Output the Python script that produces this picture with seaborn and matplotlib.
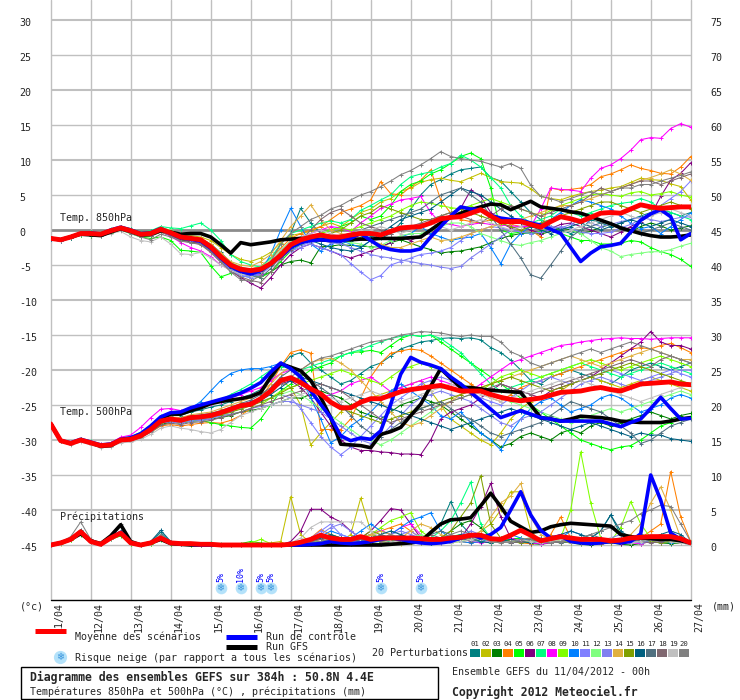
import matplotlib
matplotlib.use("Agg")
import matplotlib.pyplot as plt
import matplotlib.transforms as mtransforms
from matplotlib.lines import Line2D
from matplotlib.patches import Rectangle
import pandas as pd
import seaborn as sns

W_PX, H_PX = 740, 700

# 6-hourly steps in days after 11/04 00h (0 .. 384 h)
STEPS = [h / 24 for h in range(0, 385, 6)]
DATES = ["11/04", "12/04", "13/04", "14/04", "15/04", "16/04", "17/04", "18/04", "19/04",
         "20/04", "21/04", "22/04", "23/04", "24/04", "25/04", "26/04", "27/04"]

PERT_NAMES = ["%02d" % k for k in range(1, 21)]
PERT_COLORS = ["#008080", "#c0c000", "#008000", "#ff8000", "#00ff00", "#800080", "#00ff80",
               "#ff00ff", "#80ff00", "#0080ff", "#8080ff", "#80ff80", "#8080f0", "#e0b040",
               "#80a000", "#006080", "#507080", "#806870", "#c0c0c0", "#808080"]

# snow risk markers (day, percent)
SNOW_DAYS = [4.25, 4.75, 5.25, 5.5, 8.25, 9.25]
SNOW_PCT = [5, 10, 5, 5, 5, 5]

# ---------- temperature 850 hPa (degC) ----------
T850_MEAN = [-1.2, -1.4, -1.0, -0.5, -0.5, -0.6, -0.1, 0.3, -0.1, -0.6, -0.5, 0.1, -0.4, -1.0, -1.2, -1.4,
             -2.4, -3.8, -5.0, -5.6, -5.8, -5.6, -4.8, -3.6, -2.1, -1.4, -1.0, -0.7, -1.0, -1.0, -0.7, -0.5,
             -0.5, -0.7, -0.2, 0.3, 0.4, 0.5, 1.0, 1.6, 1.8, 1.9, 2.4, 2.9, 2.0, 1.2, 1.2, 1.2,
             0.8, 0.4, 1.2, 1.9, 1.6, 1.2, 1.8, 2.4, 2.5, 2.4, 3.0, 3.6, 3.3, 3.1, 3.2, 3.3, 3.3]
T850_GFS = [-1.2, -1.4, -1.0, -0.6, -0.7, -0.8, -0.3, 0.2, -0.2, -0.7, -0.6, -0.1, -0.3, -0.6, -0.5, -0.5,
            -1.0, -2.1, -3.3, -1.8, -2.1, -1.9, -1.7, -1.4, -1.3, -1.2, -1.3, -1.4, -1.5, -1.4, -1.4, -1.3,
            -1.3, -1.2, -1.2, -1.2, -1.1, -1.0, 0.0, 1.0, 1.8, 2.4, 2.9, 3.3, 3.7, 3.6, 2.9, 3.5,
            4.1, 3.3, 3.1, 2.9, 2.6, 2.4, 1.9, 1.4, 0.9, 0.3, -0.1, -0.5, -0.8, -1.0, -1.0, -0.9, -0.7]
T850_CTRL = [-1.2, -1.4, -1.0, -0.5, -0.4, -0.6, 0.0, 0.4, 0.0, -0.5, -0.4, 0.2, -0.5, -1.1, -1.3, -1.6,
             -2.6, -4.0, -5.2, -5.9, -6.3, -5.8, -4.8, -3.8, -2.5, -1.8, -1.5, -1.4, -1.5, -1.6, -1.2, -0.5,
             -1.5, -2.4, -2.8, -3.0, -3.0, -2.7, -1.0, 0.5, 2.0, 3.3, 3.0, 2.9, 2.1, 1.7, 1.5, 1.4,
             1.0, 0.7, 0.1, -0.5, -2.5, -4.5, -3.3, -2.4, -2.2, -1.9, -0.3, 1.4, 2.3, 2.9, 1.9, -1.4, -0.5]
T850_PERT = [
    # 01
    [-1.2, -1.3, -0.9, -0.4, -0.3, -0.5, 0.0, 0.5, 0.1, -0.4, -0.2, 0.4, -0.1, -0.7, -1.0, -1.3,
     -2.0, -3.2, -4.6, -5.5, -5.9, -5.7, -4.5, -2.0, -0.5, 3.1, 1.0, -0.5, -1.5, -2.0, -1.5, -1.0,
     -0.8, -1.2, -0.5, 1.0, 3.0, 5.0, 6.5, 7.2, 8.0, 8.6, 8.8, 9.0, 7.5, 7.0, 5.5, 4.0,
     2.5, 1.5, 0.5, 0.0, -0.5, 0.0, 1.5, 1.0, 0.5, 1.0, 1.5, 2.0, 2.5, 3.0, 2.5, 2.0, 2.5],
    # 02
    [-1.1, -1.4, -1.1, -0.6, -0.6, -0.7, -0.2, 0.2, -0.2, -0.7, -0.6, 0.0, -0.2, -0.6, -0.8, -1.0,
     -1.5, -2.5, -3.5, -4.2, -4.5, -4.0, -3.2, -1.8, -0.8, -0.5, -0.2, 0.5, 1.0, 0.5, 1.5, 2.5,
     3.0, 4.0, 4.5, 5.5, 6.0, 6.8, 7.2, 7.4, 7.1, 6.9, 7.5, 8.1, 7.5, 6.9, 6.8, 6.7,
     5.9, 4.8, 4.5, 4.3, 4.8, 5.2, 5.5, 5.7, 6.0, 6.2, 6.8, 7.4, 7.2, 7.1, 6.6, 6.2, 4.3],
    # 03
    [-1.3, -1.5, -1.2, -0.7, -0.8, -0.9, -0.4, 0.0, -0.4, -0.9, -0.9, -0.3, -0.8, -1.4, -1.7, -2.0,
     -3.0, -4.3, -5.5, -6.2, -6.5, -6.6, -6.0, -5.0, -4.5, -4.3, -4.7, -2.4, -2.3, -2.1, -2.2, -2.3,
     -2.4, -2.4, -1.8, -1.4, -1.9, -2.4, -2.8, -3.3, -3.1, -3.0, -2.7, -2.4, -1.8, -1.2, -0.8, -0.5,
     -0.4, -0.6, -0.2, 0.3, 0.0, -0.5, -0.2, 0.4, 0.8, 0.2, -0.3, 0.5, 1.0, 0.6, 0.0, 0.3, 0.6],
    # 04
    [-1.2, -1.4, -0.9, -0.4, -0.4, -0.5, 0.0, 0.4, 0.0, -0.5, -0.4, 0.2, -0.3, -0.9, -1.1, -1.3,
     -2.2, -3.6, -4.8, -5.4, -5.6, -5.2, -4.0, -2.6, -1.2, -0.5, 0.0, 0.5, 1.5, 2.5, 3.0, 3.5,
     4.3, 6.9, 5.2, 5.0, 6.2, 7.1, 8.6, 4.3, 2.4, 1.5, 1.2, 1.0, 1.5, 1.2, 0.8, 0.5,
     0.0, -1.0, 6.0, 5.7, 5.8, 6.0, 6.5, 7.6, 8.0, 8.6, 9.3, 8.8, 8.5, 8.1, 8.0, 9.0, 10.5],
    # 05
    [-1.3, -1.5, -1.1, -0.7, -0.7, -0.8, -0.4, 0.0, -0.5, -1.0, -1.2, -1.0, -1.5, -2.9, -3.0, -3.2,
     -5.1, -6.7, -6.2, -6.0, -6.5, -6.8, -6.0, -4.5, -3.0, -2.0, -1.5, -0.5, 0.0, 0.5, 1.0, 2.0,
     1.5, 2.0, 3.5, 5.5, 6.5, 7.0, 8.0, 8.6, 9.5, 10.5, 11.0, 10.2, 6.0, 0.0, -0.5, -0.3,
     -0.5, -0.2, 0.2, -0.5, -1.0, -1.5, -1.5, -2.0, -2.0, -1.9, -1.5, -1.7, -2.5, -3.1, -3.5, -4.2, -5.2],
    # 06
    [-1.2, -1.5, -1.0, -0.6, -0.6, -0.7, -0.2, 0.1, -0.3, -0.8, -0.7, -0.1, -0.7, -1.3, -1.6, -1.9,
     -2.8, -4.3, -5.8, -6.8, -7.6, -8.3, -6.8, -5.0, -3.5, -2.5, -2.0, -2.5, -3.0, -3.6, -4.0, -3.5,
     -3.0, -2.5, -1.8, -1.0, -1.5, -0.8, -0.5, 0.5, 2.0, 3.1, 5.7, 4.8, 2.5, 1.0, 0.3, 0.5,
     0.0, -0.5, 0.2, 0.8, 1.0, 0.5, 0.0, -0.5, -1.0, -0.3, 0.5, 1.2, 2.1, 4.8, 7.1, 8.1, 9.6],
    # 07
    [-1.1, -1.3, -0.9, -0.4, -0.3, -0.4, 0.1, 0.5, 0.2, -0.3, -0.1, 0.5, 0.3, 0.2, 0.6, 1.0,
     0.0, -1.5, -3.5, -4.5, -5.0, -5.3, -4.0, -2.0, -0.5, 0.0, 0.5, 1.0, 1.3, 1.0, 1.5, 2.8,
     3.5, 4.3, 5.0, 6.5, 7.6, 8.0, 8.3, 9.0, 9.5, 10.7, 10.0, 9.0, 7.5, 6.0, 3.5, 2.0,
     1.0, 1.5, 2.0, 3.0, 2.5, 2.0, 2.5, 3.0, 3.5, 3.8, 4.0, 4.5, 4.0, 3.0, 2.5, 2.0, 1.5],
    # 08
    [-1.2, -1.4, -1.0, -0.5, -0.6, -0.7, -0.2, 0.2, -0.2, -0.7, -0.7, -0.2, -0.9, -1.8, -2.5, -3.0,
     -3.8, -5.0, -5.7, -6.2, -6.5, -6.3, -5.0, -3.2, -1.5, -1.0, -0.5, 0.0, 0.5, 0.3, -0.2, 1.0,
     2.0, 3.1, 3.7, 4.3, 4.5, 4.8, 2.5, 1.0, 0.8, 0.5, 0.8, 1.0, 0.8, 0.7, 0.6, 0.5,
     0.5, 3.0, 6.0, 5.8, 5.7, 5.5, 7.4, 8.8, 9.3, 10.2, 11.4, 12.9, 13.2, 13.1, 14.5, 15.2, 14.7],
    # 09
    [-1.2, -1.3, -1.0, -0.6, -0.5, -0.6, -0.1, 0.3, 0.0, -0.5, -0.5, 0.1, -0.4, -1.0, -1.2, -1.5,
     -2.5, -3.8, -5.0, -5.8, -6.2, -6.0, -4.8, -3.0, -1.8, -1.0, -0.8, -0.5, 0.0, 0.3, 0.0, 0.5,
     1.0, 1.5, 2.0, 2.8, 3.5, 4.0, 3.8, 3.5, 3.2, 3.0, 3.5, 4.0, 4.5, 4.0, 3.5, 3.0,
     2.5, 2.0, 2.8, 3.5, 4.0, 4.5, 5.0, 5.2, 5.0, 4.8, 5.3, 5.5, 5.0, 5.2, 5.5, 5.0, 4.7],
    # 10
    [-1.3, -1.4, -1.0, -0.5, -0.4, -0.6, 0.0, 0.3, -0.1, -0.6, -0.4, 0.2, -0.3, -0.9, -1.3, -1.6,
     -2.6, -4.0, -5.5, -6.5, -6.8, -6.0, -3.5, 0.0, 3.1, 0.5, -2.0, -3.0, -2.0, -1.5, -2.0, -2.5,
     -1.5, -1.0, -1.5, -1.0, -0.5, 0.5, -0.5, -1.0, -1.5, -1.2, -1.0, -0.5, -2.5, -4.8, -2.0, -0.5,
     0.5, 1.0, 1.5, 2.5, 3.5, 4.3, 4.0, 3.5, 3.0, 2.0, 1.0, 0.2, 0.5, -0.5, 0.5, 1.5, 2.4],
    # 11
    [-1.2, -1.4, -1.0, -0.5, -0.5, -0.6, -0.1, 0.4, 0.0, -0.5, -0.4, 0.2, -0.3, -1.0, -1.3, -1.6,
     -2.8, -4.3, -5.6, -6.3, -6.6, -6.2, -5.0, -3.8, -3.0, -2.5, -2.0, -2.5, -3.0, -3.5, -4.8, -6.0,
     -7.1, -6.5, -5.0, -4.5, -4.0, -3.5, -3.3, -3.0, -2.5, -1.5, -0.5, 0.0, 0.5, 0.3, 0.0, -0.3,
     -0.5, -0.3, 0.0, 0.5, 0.2, -0.3, -0.5, -0.5, -0.3, 0.3, 0.8, 1.5, 2.5, 3.5, 4.5, 5.5, 7.0],
    # 12
    [-1.1, -1.3, -0.9, -0.5, -0.4, -0.5, 0.0, 0.4, 0.0, -0.5, -0.4, 0.3, 0.0, -0.6, -0.9, -1.2,
     -2.0, -3.4, -4.6, -5.3, -5.6, -5.3, -4.2, -2.8, -1.6, -1.0, -0.8, -1.0, -1.2, -1.5, -1.8, -2.0,
     -2.5, -2.2, -1.5, -0.8, -0.5, -0.5, 0.0, 0.5, 1.0, 1.0, 0.5, -0.5, -1.0, -1.5, -2.0, -2.2,
     -1.8, -1.5, -1.0, -0.5, 0.0, -0.5, -1.5, -2.5, -3.0, -3.8, -3.5, -3.3, -3.1, -3.1, -2.8, -2.3, -1.9],
    # 13
    [-1.3, -1.5, -1.1, -0.6, -0.6, -0.8, -0.3, 0.1, -0.3, -0.8, -0.7, -0.2, -0.6, -1.2, -1.5, -1.8,
     -3.0, -4.5, -5.8, -6.5, -6.8, -6.4, -5.2, -4.0, -3.0, -2.2, -1.8, -1.5, -1.8, -2.0, -2.5, -3.0,
     -3.5, -3.8, -4.0, -4.3, -4.5, -4.8, -5.0, -5.3, -5.5, -5.2, -4.0, -3.0, -2.0, -1.0, 0.0, 0.5,
     1.0, 0.8, 0.5, 0.3, 0.8, 1.5, 1.0, 0.5, 0.8, 1.2, 1.5, 1.8, 1.5, 1.2, 1.5, 1.8, 1.9],
    # 14
    [-1.2, -1.3, -0.9, -0.4, -0.4, -0.5, 0.0, 0.4, 0.0, -0.4, -0.3, 0.3, -0.1, -0.7, -0.9, -1.2,
     -2.0, -3.3, -4.5, -5.0, -5.2, -4.5, -3.5, -1.5, 0.5, 2.0, 3.6, 1.5, 0.0, -0.5, -0.8, -1.2,
     -1.5, -2.0, -2.5, -2.5, -2.0, -1.5, -1.0, -1.5, -1.4, -1.0, -0.5, 0.0, 0.5, 0.8, 1.0, 1.5,
     2.0, 2.5, 3.0, 3.5, 3.5, 4.0, 4.5, 5.0, 5.5, 6.0, 6.5, 7.1, 7.5, 8.0, 8.6, 8.0, 7.1],
    # 15
    [-1.2, -1.4, -1.0, -0.5, -0.5, -0.6, -0.1, 0.3, -0.1, -0.6, -0.5, 0.1, -0.5, -1.1, -1.3, -1.6,
     -2.6, -3.9, -5.2, -5.9, -6.1, -5.8, -4.6, -3.2, -2.0, -1.5, -1.2, -1.0, -0.5, 0.0, 1.0, 2.0,
     2.5, 3.5, 3.0, 2.5, 2.0, 1.5, 1.5, 2.0, 2.5, 3.0, 2.5, 2.0, 1.5, 1.0, 0.5, 0.0,
     0.5, 1.0, 1.5, 2.0, 2.5, 3.0, 3.5, 4.0, 4.0, 3.5, 3.0, 2.5, 3.0, 3.5, 4.0, 3.5, 3.0],
    # 16
    [-1.3, -1.4, -1.1, -0.6, -0.5, -0.7, -0.2, 0.2, -0.2, -0.7, -0.6, 0.0, -0.5, -1.1, -1.4, -1.7,
     -2.8, -4.2, -5.4, -6.1, -6.4, -6.1, -5.0, -3.5, -2.5, -1.8, -1.5, -2.0, -2.5, -2.8, -3.0, -2.5,
     -1.5, -0.5, 0.5, 1.5, 2.0, 2.5, 3.0, 4.0, 5.0, 6.0, 5.5, 5.0, 4.0, 3.0, 2.0, 1.0,
     0.5, 0.0, -0.5, 0.0, 0.5, 1.0, 0.5, 0.0, 0.5, 1.0, 1.5, 1.0, 0.5, 1.0, 1.5, 1.0, 0.5],
    # 17
    [-1.2, -1.4, -1.0, -0.6, -0.5, -0.6, -0.1, 0.3, -0.1, -0.6, -0.5, 0.1, -0.4, -1.0, -1.2, -1.5,
     -2.6, -4.0, -5.3, -6.2, -6.6, -6.8, -5.5, -3.8, -2.5, -1.8, -1.5, -1.2, -1.0, -0.8, -0.5, 0.0,
     0.5, 1.0, 1.5, 2.0, 2.5, 3.0, 4.0, 5.0, 5.5, 6.0, 5.0, 4.0, 2.0, 0.0, -2.0, -4.0,
     -6.4, -6.9, -5.0, -3.0, -1.0, 0.0, 0.5, 1.0, 1.0, 0.5, 0.0, -0.5, 0.0, 0.5, 1.0, 0.5, 0.0],
    # 18
    [-1.2, -1.4, -1.0, -0.5, -0.5, -0.7, -0.2, 0.2, -0.3, -0.8, -0.8, -0.3, -0.8, -1.5, -1.8, -2.1,
     -3.2, -4.6, -5.9, -6.7, -7.2, -7.5, -6.0, -4.2, -2.8, -1.5, 0.0, 1.5, 2.5, 3.0, 2.0, 1.0,
     0.5, 0.0, -0.5, 0.0, 0.5, 1.0, 1.5, 2.0, 2.5, 2.0, 1.5, 1.0, 2.0, 3.0, 3.5, 3.0,
     2.5, 2.0, 2.5, 3.0, 3.5, 4.0, 5.0, 6.0, 5.5, 6.0, 6.5, 7.0, 7.0, 6.5, 7.0, 7.5, 8.0],
    # 19
    [-1.2, -1.4, -1.0, -0.6, -0.7, -0.9, -0.5, -0.2, -1.0, -1.5, -1.7, -1.0, -2.0, -3.4, -3.5, -3.2,
     -4.0, -5.0, -5.8, -6.3, -6.5, -6.0, -4.5, -2.8, -1.8, -1.0, -0.5, 0.0, -0.5, -1.0, -0.5, 0.0,
     0.0, 0.5, 0.0, -0.5, 0.0, 0.5, 1.0, 0.5, 0.0, 0.5, 1.0, 1.5, 1.0, 0.5, 0.0, 0.5,
     1.0, 0.5, 0.0, -0.5, 0.0, 0.5, 1.0, 1.5, 2.0, 2.5, 2.0, 1.5, 2.0, 2.5, 3.0, 2.5, 2.0],
    # 20
    [-1.2, -1.3, -1.0, -0.6, -0.6, -0.8, -0.3, 0.0, -0.5, -1.0, -1.4, -0.6, -1.0, -1.6, -1.8, -2.0,
     -3.0, -4.5, -6.0, -7.1, -7.3, -6.5, -4.5, -2.0, -0.5, 0.5, 1.5, 2.1, 3.0, 3.5, 4.3, 5.0,
     5.5, 6.2, 7.0, 7.9, 8.5, 9.3, 10.2, 11.2, 10.5, 10.2, 10.0, 9.8, 9.4, 9.0, 9.5, 8.8,
     6.4, 4.8, 4.5, 4.0, 4.5, 5.0, 5.5, 5.0, 5.5, 6.0, 6.0, 6.5, 6.5, 7.0, 7.4, 7.8, 8.3],
]

# ---------- temperature 500 hPa (degC) ----------
T500_MEAN = [-27.7, -30.1, -30.5, -30.0, -30.4, -30.8, -30.7, -30.0, -29.9, -29.4, -28.5, -27.3, -27.0, -27.2, -26.8, -26.7,
             -26.5, -26.1, -25.6, -25.1, -24.9, -24.1, -23.0, -21.5, -21.1, -21.8, -22.7, -23.4, -24.6, -25.4, -25.4, -24.6,
             -24.1, -24.1, -23.6, -23.1, -22.8, -22.6, -22.4, -22.2, -22.6, -23.0, -23.0, -23.0, -23.5, -23.9, -24.2, -24.4,
             -24.2, -24.0, -23.6, -23.2, -23.1, -23.0, -22.7, -22.5, -22.8, -23.0, -22.5, -22.0, -21.9, -21.8, -21.7, -22.0, -22.1]
T500_GFS = [-27.7, -30.1, -30.5, -30.0, -30.4, -30.9, -30.8, -30.0, -29.8, -29.2, -28.3, -26.9, -26.3, -26.3, -25.8, -25.4,
            -24.8, -24.5, -24.3, -24.1, -23.8, -23.2, -21.0, -19.1, -19.6, -20.1, -21.5, -23.9, -26.8, -30.6, -30.7, -30.8,
            -31.1, -29.2, -28.8, -28.2, -26.5, -24.9, -22.3, -19.8, -21.2, -22.5, -22.5, -22.7, -22.9, -23.0, -23.1, -23.2,
            -25.0, -26.8, -27.0, -27.3, -27.0, -26.6, -26.7, -26.8, -27.0, -27.3, -27.4, -27.5, -27.5, -27.5, -27.3, -27.0, -26.8]
T500_CTRL = [-27.7, -30.1, -30.4, -29.9, -30.3, -30.7, -30.6, -29.9, -29.7, -29.1, -28.0, -26.7, -26.1, -26.0, -25.4, -25.0,
             -24.6, -24.2, -23.8, -23.3, -22.6, -21.8, -20.3, -19.0, -19.8, -21.0, -23.0, -24.9, -26.8, -29.4, -30.1, -29.7,
             -29.9, -28.7, -24.9, -20.6, -18.2, -18.9, -19.3, -19.8, -21.0, -22.0, -23.2, -24.4, -25.6, -26.8, -26.3, -25.8,
             -26.3, -26.8, -27.0, -27.3, -27.3, -27.3, -27.3, -27.3, -27.7, -28.1, -27.5, -27.0, -25.5, -23.9, -25.5, -27.0, -26.9]
T500_PERT = [
    # 01
    [-27.7, -30.0, -30.4, -29.9, -30.3, -30.7, -30.5, -29.8, -29.6, -29.0, -28.0, -26.8, -26.5, -26.5, -26.0, -25.7,
     -25.3, -25.0, -24.5, -24.0, -23.5, -22.8, -21.5, -19.5, -18.0, -17.5, -19.0, -20.0, -21.0, -22.0, -21.5, -20.5,
     -19.5, -19.0, -18.0, -17.0, -16.5, -16.0, -15.8, -15.5, -15.4, -15.5, -15.4, -15.7, -16.8, -17.5, -18.6, -20.0,
     -21.5, -22.0, -21.0, -20.5, -20.0, -20.5, -21.0, -21.5, -22.0, -21.0, -20.0, -19.5, -19.0, -19.5, -20.0, -19.5, -19.0],
    # 02
    [-27.7, -30.2, -30.6, -30.1, -30.5, -30.9, -30.8, -30.1, -30.0, -29.5, -28.8, -27.8, -27.5, -27.6, -27.3, -27.0,
     -26.8, -26.5, -26.0, -25.5, -24.8, -24.0, -23.0, -21.5, -22.5, -25.0, -30.7, -29.0, -27.5, -26.0, -25.0, -24.5,
     -24.0, -23.5, -23.0, -22.5, -22.0, -21.5, -23.0, -25.0, -27.0, -28.0, -29.0, -30.0, -30.7, -29.0, -27.0, -25.5,
     -24.5, -24.0, -23.5, -23.0, -22.0, -21.5, -21.0, -21.5, -22.0, -22.5, -22.0, -21.5, -21.0, -21.5, -22.0, -22.5, -23.0],
    # 03
    [-27.7, -30.1, -30.6, -30.2, -30.6, -31.0, -30.9, -30.2, -30.1, -29.6, -28.8, -27.8, -27.4, -27.6, -27.3, -27.2,
     -27.0, -26.8, -26.5, -26.0, -25.8, -25.5, -25.0, -24.5, -24.0, -24.0, -23.5, -23.0, -23.5, -24.0, -25.0, -26.0,
     -26.5, -27.0, -26.0, -25.0, -24.5, -24.0, -24.5, -25.0, -26.0, -27.0, -28.0, -29.0, -30.0, -31.0, -30.5, -29.5,
     -29.0, -29.5, -30.0, -29.0, -28.5, -29.0, -28.0, -27.5, -28.0, -27.5, -27.0, -26.5, -26.0, -26.5, -27.0, -26.5, -26.2],
    # 04
    [-27.7, -30.1, -30.5, -30.0, -30.4, -30.8, -30.7, -30.1, -30.0, -29.6, -28.9, -28.0, -27.8, -28.0, -27.8, -27.6,
     -27.5, -27.6, -27.2, -26.5, -25.5, -24.0, -22.0, -19.5, -17.5, -17.1, -17.6, -28.5, -28.5, -28.5, -27.0, -24.0,
     -21.0, -19.0, -17.6, -17.3, -17.0, -17.2, -18.0, -19.0, -20.0, -21.0, -22.0, -23.0, -24.0, -24.5, -23.5, -22.5,
     -22.0, -21.5, -21.0, -20.5, -20.0, -19.5, -19.0, -18.5, -18.0, -17.5, -17.0, -16.8, -17.0, -16.5, -16.2, -16.8, -17.5],
    # 05
    [-27.7, -30.2, -30.6, -30.1, -30.5, -30.9, -30.8, -30.1, -30.0, -29.5, -28.7, -27.6, -27.3, -27.5, -27.3, -27.2,
     -27.5, -27.8, -28.0, -28.2, -28.3, -27.0, -25.0, -23.0, -22.0, -21.0, -20.0, -19.5, -19.0, -18.0, -17.5, -17.4,
     -17.2, -17.5, -16.5, -15.5, -15.0, -15.2, -15.0, -16.0, -17.0, -18.0, -19.0, -20.0, -21.0, -22.0, -23.0, -24.0,
     -25.0, -26.0, -27.0, -28.0, -29.0, -30.0, -30.5, -31.0, -31.4, -31.0, -30.8, -30.0, -29.0, -28.0, -27.5, -27.0, -26.7],
    # 06
    [-27.7, -30.1, -30.5, -30.0, -30.4, -30.8, -30.7, -30.0, -29.9, -29.4, -28.5, -27.3, -27.0, -27.2, -26.8, -26.7,
     -26.5, -26.0, -25.5, -25.0, -24.5, -24.0, -23.0, -22.0, -21.5, -22.5, -24.0, -26.0, -28.0, -30.0, -31.0, -31.5,
     -31.5, -31.7, -31.8, -32.0, -32.0, -32.1, -30.0, -27.0, -26.0, -25.5, -25.0, -24.0, -23.0, -22.0, -22.5, -23.0,
     -23.5, -24.0, -23.0, -22.5, -22.0, -21.5, -21.0, -20.0, -19.0, -18.0, -17.0, -16.0, -14.5, -16.0, -16.5, -16.5, -17.0],
    # 07
    [-27.7, -30.0, -30.4, -29.9, -30.2, -30.6, -30.4, -29.7, -29.5, -28.9, -27.9, -26.6, -26.2, -26.2, -25.7, -25.3,
     -24.8, -24.3, -23.5, -22.8, -22.0, -21.0, -20.0, -19.5, -19.8, -20.0, -19.5, -19.0, -18.5, -18.0, -17.5, -17.1,
     -16.5, -16.0, -15.5, -15.2, -15.0, -15.2, -15.0, -15.5, -16.5, -17.5, -19.0, -20.5, -22.0, -23.0, -22.5, -22.0,
     -21.5, -21.0, -20.5, -20.0, -19.5, -19.0, -19.5, -20.0, -20.5, -21.0, -20.5, -20.0, -19.5, -19.0, -19.5, -20.0, -20.5],
    # 08
    [-27.7, -30.1, -30.5, -30.0, -30.3, -30.6, -30.4, -29.6, -29.3, -28.2, -26.8, -25.6, -25.5, -25.8, -25.5, -25.2,
     -24.8, -24.5, -24.0, -23.5, -23.0, -22.5, -21.5, -20.5, -20.0, -21.0, -22.5, -24.0, -23.5, -23.0, -22.0, -21.5,
     -21.0, -22.0, -23.1, -22.5, -22.0, -21.5, -21.0, -21.5, -22.0, -22.5, -23.0, -22.0, -21.0, -20.0, -19.0, -18.5,
     -18.0, -17.5, -17.0, -16.5, -16.3, -16.0, -15.8, -15.6, -15.5, -15.4, -15.5, -15.5, -15.6, -15.5, -15.4, -15.4, -15.4],
    # 09
    [-27.7, -30.2, -30.5, -30.1, -30.4, -30.9, -30.8, -30.1, -30.0, -29.6, -28.7, -27.5, -27.3, -27.5, -27.2, -27.0,
     -26.8, -26.5, -26.3, -26.0, -25.5, -25.0, -24.0, -23.0, -22.5, -22.0, -21.5, -21.0, -20.5, -20.0, -20.5, -21.0,
     -21.5, -22.0, -21.0, -20.0, -19.5, -19.0, -19.5, -20.0, -21.0, -22.0, -22.5, -23.0, -22.0, -21.0, -20.5, -20.0,
     -20.5, -21.0, -20.5, -20.0, -19.5, -19.0, -18.5, -19.0, -19.5, -20.0, -19.5, -19.0, -18.5, -18.0, -18.5, -19.0, -19.5],
    # 10
    [-27.7, -30.0, -30.4, -29.9, -30.3, -30.7, -30.5, -29.8, -29.6, -29.0, -28.0, -26.8, -26.4, -26.3, -25.5, -24.5,
     -23.0, -21.5, -20.5, -20.0, -19.8, -19.8, -19.5, -19.0, -19.5, -21.0, -24.0, -27.0, -30.4, -29.5, -28.0, -27.0,
     -26.0, -24.5, -23.0, -22.0, -23.0, -24.0, -25.0, -26.5, -27.0, -26.0, -27.5, -29.0, -30.0, -31.4, -29.0, -27.0,
     -25.5, -24.5, -24.0, -25.0, -26.0, -25.5, -25.0, -24.0, -23.5, -24.0, -25.0, -26.0, -25.5, -25.0, -24.0, -23.5, -24.0],
    # 11
    [-27.7, -30.1, -30.5, -30.0, -30.4, -30.8, -30.7, -30.0, -29.9, -29.5, -28.7, -27.6, -27.4, -27.6, -27.3, -27.2,
     -27.0, -26.5, -26.0, -25.5, -25.0, -24.5, -24.0, -23.5, -24.0, -25.5, -27.5, -29.5, -31.0, -32.1, -31.0, -29.5,
     -28.0, -26.5, -25.0, -24.0, -23.0, -22.0, -21.5, -21.0, -21.5, -22.0, -23.0, -24.0, -24.5, -25.0, -24.0, -23.0,
     -22.0, -21.5, -21.0, -21.5, -22.0, -21.5, -21.0, -20.5, -20.0, -20.5, -21.0, -21.5, -21.0, -20.5, -20.0, -20.5, -21.0],
    # 12
    [-27.7, -30.0, -30.5, -30.0, -30.4, -30.8, -30.6, -29.9, -29.8, -29.3, -28.4, -27.2, -26.9, -27.1, -26.7, -26.6,
     -26.5, -26.3, -26.0, -25.5, -25.0, -24.5, -24.0, -23.5, -23.0, -23.5, -24.5, -25.5, -26.5, -27.5, -28.5, -29.5,
     -30.0, -30.7, -30.0, -29.0, -28.0, -27.0, -26.0, -25.0, -24.5, -24.0, -23.5, -23.0, -23.5, -24.0, -24.5, -25.0,
     -25.5, -26.0, -26.5, -27.0, -27.5, -27.0, -26.5, -26.0, -25.5, -26.0, -25.5, -25.0, -24.5, -24.0, -23.5, -23.0, -23.5],
    # 13
    [-27.7, -30.1, -30.6, -30.1, -30.5, -30.9, -30.8, -30.1, -30.0, -29.5, -28.6, -27.5, -27.2, -27.4, -27.1, -27.0,
     -26.8, -26.6, -26.3, -26.0, -25.5, -25.2, -25.0, -24.5, -24.5, -25.0, -25.5, -26.0, -27.0, -28.0, -29.0, -30.0,
     -30.5, -29.5, -28.0, -26.5, -25.0, -24.0, -23.5, -23.0, -23.5, -24.0, -24.5, -25.5, -26.5, -27.5, -28.0, -27.0,
     -26.5, -26.0, -25.0, -24.0, -23.0, -22.0, -21.5, -21.0, -21.5, -22.0, -22.5, -22.0, -21.5, -21.0, -20.5, -20.0, -20.0],
    # 14
    [-27.7, -30.0, -30.4, -29.9, -30.3, -30.7, -30.6, -29.9, -29.7, -29.2, -28.2, -27.0, -26.7, -26.8, -26.4, -26.2,
     -26.0, -25.5, -25.0, -24.5, -24.0, -23.0, -22.0, -20.5, -19.5, -20.0, -19.0, -18.5, -18.3, -19.0, -20.0, -21.5,
     -23.0, -24.5, -26.0, -27.5, -28.0, -27.5, -26.5, -25.5, -24.5, -23.5, -23.0, -22.5, -22.0, -21.5, -21.0, -20.5,
     -20.0, -19.5, -19.0, -18.5, -18.0, -18.5, -19.0, -19.5, -19.0, -18.5, -18.0, -17.5, -17.0, -17.5, -18.0, -18.5, -18.5],
    # 15
    [-27.7, -30.1, -30.5, -30.0, -30.4, -30.9, -30.8, -30.1, -30.0, -29.5, -28.6, -27.5, -27.2, -27.3, -27.0, -26.9,
     -26.7, -26.4, -26.0, -25.6, -25.1, -24.6, -24.0, -23.3, -22.5, -22.0, -22.5, -23.5, -24.5, -25.5, -26.0, -26.5,
     -27.0, -27.5, -27.0, -26.5, -26.0, -25.5, -25.0, -24.5, -24.0, -23.5, -23.0, -22.5, -22.0, -21.5, -21.0, -21.5,
     -22.0, -22.5, -23.0, -22.5, -22.0, -21.5, -21.0, -20.5, -20.0, -19.5, -19.0, -19.5, -20.0, -20.5, -21.0, -21.5, -22.0],
    # 16
    [-27.7, -30.1, -30.5, -30.0, -30.4, -30.8, -30.7, -30.0, -29.9, -29.4, -28.5, -27.4, -27.1, -27.3, -26.9, -26.8,
     -26.6, -26.2, -25.8, -25.3, -24.8, -24.3, -23.5, -22.5, -21.5, -21.0, -21.5, -22.0, -22.5, -23.0, -23.5, -24.0,
     -24.5, -25.0, -25.5, -26.0, -26.5, -27.0, -27.5, -28.0, -28.5, -28.0, -27.5, -27.0, -26.5, -26.0, -25.5, -26.0,
     -26.5, -27.0, -27.5, -28.0, -28.5, -28.0, -27.5, -28.0, -28.5, -29.0, -29.5, -29.0, -29.3, -29.3, -29.8, -30.0, -30.2],
    # 17
    [-27.7, -30.1, -30.5, -30.0, -30.4, -30.8, -30.7, -30.0, -29.8, -29.3, -28.4, -27.2, -26.9, -27.0, -26.6, -26.4,
     -26.2, -25.8, -25.3, -24.8, -24.3, -23.5, -22.5, -21.0, -20.0, -20.5, -21.5, -22.5, -23.5, -25.0, -26.5, -28.0,
     -29.0, -29.5, -28.5, -27.5, -26.5, -25.5, -25.0, -24.5, -25.5, -26.5, -27.0, -28.0, -29.0, -29.5, -29.0, -28.5,
     -28.0, -27.5, -26.5, -25.5, -24.5, -25.0, -25.5, -26.0, -27.0, -28.0, -29.0, -30.5, -30.0, -29.0, -28.0, -27.5, -27.0],
    # 18
    [-27.7, -30.2, -30.6, -30.1, -30.5, -31.0, -30.9, -30.2, -30.1, -29.7, -28.9, -27.9, -27.6, -27.8, -27.5, -27.4,
     -27.2, -26.8, -26.4, -26.0, -25.5, -25.0, -24.5, -24.0, -23.5, -23.0, -22.5, -22.0, -22.5, -23.0, -24.0, -25.0,
     -26.0, -27.0, -27.5, -27.0, -26.5, -26.0, -25.5, -25.0, -24.5, -24.0, -23.5, -23.0, -22.5, -22.0, -22.5, -23.0,
     -23.5, -23.0, -22.5, -22.0, -21.5, -21.0, -20.5, -20.0, -19.5, -19.0, -18.5, -19.0, -19.5, -18.5, -18.0, -18.5, -19.0],
    # 19
    [-27.7, -30.2, -30.7, -30.3, -30.7, -31.1, -31.0, -30.4, -30.3, -29.9, -29.2, -28.3, -28.0, -28.3, -28.5, -28.8,
     -29.0, -28.5, -27.5, -26.5, -26.0, -25.5, -25.0, -24.5, -24.0, -23.5, -23.0, -23.5, -24.0, -24.5, -24.0, -23.5,
     -23.0, -23.5, -24.0, -24.5, -24.0, -23.5, -23.0, -22.5, -22.0, -22.5, -23.0, -23.5, -24.0, -24.5, -24.0, -23.5,
     -23.0, -22.5, -22.0, -21.5, -21.0, -21.5, -22.0, -22.5, -23.0, -23.5, -24.0, -24.5, -24.0, -23.5, -23.0, -22.5, -22.0],
    # 20
    [-27.7, -30.1, -30.5, -30.0, -30.4, -30.8, -30.7, -30.0, -29.9, -29.4, -28.5, -27.3, -27.0, -27.2, -26.8, -26.7,
     -26.5, -26.2, -25.8, -25.3, -24.8, -24.0, -23.0, -22.0, -21.0, -20.0, -19.0, -18.3, -18.0, -17.5, -17.0, -16.5,
     -16.0, -15.8, -15.5, -15.0, -14.8, -14.5, -14.6, -14.7, -15.0, -15.2, -15.0, -15.2, -15.2, -16.0, -17.4, -18.0,
     -19.0, -19.5, -19.0, -18.5, -18.0, -17.5, -17.0, -17.5, -17.0, -16.5, -16.0, -16.5, -17.0, -17.5, -18.0, -18.5, -19.0],
]

# ---------- 6-hourly precipitation (mm) ----------
PR_MEAN = [0.0, 0.3, 0.8, 1.9, 0.5, 0.1, 1.0, 1.7, 0.3, 0.0, 0.3, 1.0, 0.3, 0.2,
           0.2, 0.1, 0.1, 0.0, 0.0, 0.0, 0.0, 0.0, 0.0, 0.0, 0.1, 0.4, 0.8, 1.4,
           1.0, 0.8, 0.8, 1.2, 0.8, 1.0, 1.0, 1.0, 1.0, 0.9, 0.8, 0.8, 1.0, 1.1, 1.4, 1.4, 0.9, 0.8,
           1.4, 2.1, 1.4, 0.6, 0.9, 1.2, 1.0, 0.8, 0.8, 0.8, 0.6, 0.7, 1.0, 1.1, 1.2, 1.2, 1.2, 0.9, 0.3]
PR_GFS = [0.0, 0.3, 0.8, 1.6, 0.6, 0.2, 1.3, 2.9, 0.5, 0.0, 0.3, 0.8, 0.2, 0.1,
          0.0, 0.0, 0.0, 0.0, 0.0, 0.0, 0.0, 0.0, 0.0, 0.0, 0.0, 0.0, 0.0, 0.0,
          0.0, 0.0, 0.0, 0.0, 0.0, 0.0, 0.1, 0.2, 0.3, 0.5, 1.8, 3.0, 3.6, 3.7, 3.9, 5.6, 7.4, 5.5,
          3.4, 2.6, 1.8, 2.0, 2.6, 2.9, 3.1, 3.0, 2.9, 2.8, 2.7, 1.5, 1.2, 1.0, 0.9, 0.8, 0.8, 0.6, 0.3]
PR_CTRL = [0.0, 0.3, 0.8, 1.9, 0.5, 0.1, 1.0, 1.8, 0.3, 0.0, 0.3, 1.0, 0.3, 0.2,
           0.1, 0.0, 0.0, 0.0, 0.0, 0.0, 0.0, 0.0, 0.0, 0.0, 0.0, 0.0, 0.1, 0.2,
           0.5, 0.3, 0.2, 0.3, 0.5, 0.8, 1.0, 0.8, 0.5, 0.3, 0.2, 0.3, 0.5, 1.0, 1.5, 1.0, 1.5, 2.5,
           5.0, 7.6, 4.3, 2.1, 1.0, 1.3, 0.5, 0.3, 0.2, 0.3, 0.5, 0.3, 0.5, 1.6, 10.0, 6.4, 1.7, 0.8, 0.3]
PR_PERT = [
    # 01
    [0.0, 0.3, 0.9, 2.2, 0.6, 0.1, 1.1, 2.0, 0.4, 0.0, 0.5, 1.8, 0.4, 0.2,
     0.1, 0.0, 0.0, 0.0, 0.0, 0.0, 0.0, 0.0, 0.0, 0.0, 0.2, 0.5, 0.3, 1.0,
     1.5, 0.8, 0.5, 1.0, 1.5, 1.0, 0.5, 0.8, 1.2, 1.0, 1.5, 3.0, 6.2, 3.0, 1.5, 1.0, 0.8, 0.5,
     0.8, 1.0, 0.5, 0.3, 0.8, 1.0, 0.8, 0.5, 1.0, 2.0, 4.3, 1.5, 0.5, 0.3, 0.5, 0.8, 1.0, 0.8, 0.3],
    # 02
    [0.0, 0.2, 0.7, 1.6, 0.4, 0.1, 0.8, 1.4, 0.2, 0.0, 0.2, 0.8, 0.2, 0.1,
     0.0, 0.0, 0.0, 0.0, 0.0, 0.0, 0.0, 0.0, 0.3, 0.5, 6.9, 1.5, 0.3, 0.5,
     0.8, 0.5, 1.5, 6.7, 2.0, 0.5, 0.3, 0.2, 0.3, 0.5, 0.8, 1.0, 0.5, 0.8, 1.0, 2.0, 3.0, 5.0,
     7.6, 7.6, 2.0, 0.5, 0.3, 0.5, 0.8, 0.5, 0.3, 0.5, 0.8, 0.5, 0.3, 0.5, 1.0, 1.5, 1.0, 0.5, 0.2],
    # 03
    [0.0, 0.3, 0.8, 1.8, 0.5, 0.1, 0.9, 1.5, 0.3, 0.0, 0.3, 0.9, 0.3, 0.2,
     0.1, 0.0, 0.0, 0.0, 0.0, 0.0, 0.0, 0.0, 0.0, 0.0, 0.0, 0.1, 0.2, 0.3,
     0.5, 0.3, 0.2, 0.5, 0.3, 0.2, 0.5, 1.0, 0.8, 0.5, 0.3, 1.0, 2.0, 3.0, 3.5, 2.5, 1.0, 0.5,
     0.3, 0.5, 0.2, 0.1, 0.3, 0.5, 0.3, 0.1, 0.0, 0.2, 0.3, 0.1, 0.0, 0.2, 0.5, 0.3, 0.2, 0.3, 0.1],
    # 04
    [0.0, 0.3, 0.8, 1.7, 0.5, 0.1, 1.0, 1.6, 0.3, 0.0, 0.3, 1.0, 0.3, 0.2,
     0.1, 0.0, 0.0, 0.0, 0.0, 0.0, 0.0, 0.0, 0.0, 0.1, 0.3, 0.5, 1.0, 2.2,
     1.5, 1.0, 0.8, 1.0, 1.5, 2.0, 2.5, 3.0, 2.0, 1.0, 0.5, 0.8, 1.0, 0.5, 0.3, 0.5, 0.8, 1.0,
     0.5, 0.3, 0.2, 0.5, 1.5, 4.0, 1.0, 0.5, 0.3, 0.2, 0.5, 0.3, 0.5, 1.0, 2.0, 3.0, 10.5, 4.0, 0.5],
    # 05
    [0.0, 0.3, 0.7, 1.5, 0.4, 0.1, 0.8, 1.3, 0.2, 0.0, 0.2, 0.7, 0.2, 0.1,
     0.0, 0.0, 0.0, 0.0, 0.0, 0.2, 0.5, 0.3, 0.1, 0.0, 0.0, 0.2, 0.5, 1.0,
     0.8, 0.5, 0.3, 0.5, 0.8, 0.5, 1.0, 1.5, 1.0, 0.5, 0.3, 0.8, 1.2, 1.5, 1.0, 0.5, 0.3, 0.5,
     0.8, 1.0, 0.5, 0.3, 0.5, 0.8, 1.2, 0.8, 0.5, 0.3, 0.5, 0.8, 1.0, 1.5, 1.2, 1.0, 0.8, 0.5, 0.2],
    # 06
    [0.0, 0.3, 0.8, 1.9, 0.5, 0.1, 1.0, 1.8, 0.3, 0.0, 0.3, 1.0, 0.3, 0.2,
     0.1, 0.0, 0.0, 0.0, 0.0, 0.0, 0.0, 0.0, 0.0, 0.0, 0.5, 2.0, 5.1, 5.1,
     4.0, 3.3, 2.0, 1.0, 2.0, 3.5, 5.2, 5.0, 3.0, 1.0, 0.5, 0.3, 0.5, 1.0, 3.0, 5.5, 8.8, 4.0,
     1.0, 0.5, 0.3, 0.2, 0.5, 0.8, 0.5, 0.3, 0.2, 0.5, 0.3, 0.2, 0.5, 0.8, 0.5, 0.3, 0.5, 0.8, 0.3],
    # 07
    [0.0, 0.3, 0.8, 1.8, 0.5, 0.1, 0.9, 1.6, 0.3, 0.0, 0.3, 0.9, 0.3, 0.2,
     0.1, 0.2, 0.3, 0.1, 0.0, 0.0, 0.0, 0.0, 0.1, 0.0, 0.3, 0.5, 0.8, 1.0,
     1.5, 1.0, 0.5, 1.0, 1.5, 0.8, 0.5, 1.0, 0.8, 0.5, 1.0, 2.0, 3.5, 6.0, 9.0, 3.0, 1.0, 0.5,
     0.3, 0.5, 0.8, 0.5, 0.3, 0.5, 0.8, 1.0, 0.5, 0.3, 0.5, 0.8, 0.5, 0.3, 0.5, 0.8, 1.0, 0.5, 0.2],
    # 08
    [0.0, 0.3, 0.8, 1.8, 0.5, 0.1, 0.9, 1.6, 0.3, 0.0, 0.3, 1.0, 0.3, 0.2,
     0.1, 0.0, 0.0, 0.0, 0.0, 0.0, 0.0, 0.0, 0.0, 0.0, 0.1, 0.3, 0.5, 0.8,
     1.0, 0.5, 0.3, 0.8, 1.5, 2.1, 1.5, 2.5, 3.0, 1.5, 0.8, 0.5, 0.8, 1.0, 0.5, 0.3, 0.5, 0.8,
     1.0, 0.5, 0.3, 0.2, 0.3, 0.5, 0.8, 0.5, 0.3, 0.5, 0.8, 0.5, 0.3, 0.2, 0.5, 0.8, 0.5, 0.3, 0.1],
    # 09
    [0.0, 0.3, 0.8, 1.7, 0.5, 0.1, 1.0, 1.7, 0.3, 0.0, 0.3, 1.0, 0.3, 0.2,
     0.1, 0.0, 0.0, 0.0, 0.0, 0.0, 0.3, 0.8, 0.2, 0.0, 0.0, 0.2, 0.3, 0.5,
     0.8, 1.0, 0.5, 0.8, 1.5, 2.5, 3.5, 4.0, 4.6, 2.0, 1.0, 0.5, 0.3, 0.5, 0.8, 1.0, 0.5, 0.3,
     0.5, 0.8, 1.0, 0.5, 0.3, 1.0, 5.0, 13.3, 6.0, 1.0, 0.5, 2.5, 6.2, 3.0, 1.0, 0.5, 0.8, 0.5, 0.2],
    # 10
    [0.0, 0.3, 0.8, 1.8, 0.5, 0.1, 1.0, 1.6, 0.3, 0.0, 0.3, 1.0, 0.3, 0.2,
     0.1, 0.0, 0.0, 0.0, 0.0, 0.0, 0.0, 0.0, 0.0, 0.0, 0.2, 0.5, 0.8, 1.2,
     2.0, 1.5, 1.0, 2.0, 3.0, 2.0, 1.5, 2.5, 3.5, 4.0, 4.6, 2.0, 1.0, 0.5, 0.3, 0.5, 0.8, 1.0,
     1.5, 1.0, 0.5, 0.3, 0.5, 1.0, 2.0, 1.5, 0.8, 0.5, 0.3, 0.5, 1.0, 1.5, 1.0, 0.5, 0.3, 0.5, 0.2],
    # 11
    [0.0, 0.3, 0.8, 1.9, 0.5, 0.1, 1.0, 1.7, 0.3, 0.0, 0.3, 1.0, 0.3, 0.2,
     0.1, 0.0, 0.0, 0.0, 0.0, 0.0, 0.0, 0.0, 0.0, 0.0, 0.2, 0.5, 1.0, 2.0,
     3.0, 1.5, 1.0, 0.8, 0.5, 0.8, 1.0, 1.5, 2.0, 1.0, 0.5, 0.3, 0.5, 1.0, 1.5, 1.0, 0.5, 0.3,
     0.5, 0.8, 0.5, 0.3, 0.5, 0.8, 1.0, 0.5, 0.3, 0.5, 0.8, 1.0, 0.5, 0.3, 0.5, 1.0, 1.5, 1.0, 0.3],
    # 12
    [0.0, 0.3, 0.8, 1.8, 0.5, 0.1, 0.9, 1.6, 0.3, 0.0, 0.3, 0.9, 0.3, 0.2,
     0.1, 0.0, 0.0, 0.0, 0.0, 0.0, 0.0, 0.0, 0.0, 0.0, 0.1, 0.2, 0.3, 0.5,
     0.8, 0.5, 0.3, 0.5, 0.8, 1.0, 0.8, 0.5, 1.0, 1.5, 1.0, 0.5, 0.8, 1.0, 1.5, 1.0, 0.5, 0.3,
     0.5, 0.3, 0.5, 0.8, 1.0, 0.5, 0.3, 0.5, 0.8, 0.5, 0.3, 0.5, 0.8, 1.0, 0.5, 0.3, 0.5, 0.3, 0.1],
    # 13
    [0.0, 0.3, 0.8, 1.8, 0.5, 0.1, 1.0, 1.7, 0.3, 0.0, 0.3, 1.0, 0.3, 0.2,
     0.1, 0.0, 0.0, 0.0, 0.0, 0.0, 0.0, 0.0, 0.0, 0.0, 0.2, 0.3, 0.5, 1.5,
     2.5, 3.0, 2.0, 1.0, 0.5, 0.8, 1.5, 2.0, 1.5, 1.0, 0.5, 0.8, 1.0, 1.5, 2.0, 1.5, 1.0, 0.5,
     0.3, 0.5, 0.8, 0.5, 0.3, 0.5, 0.8, 0.5, 0.3, 0.5, 1.0, 1.5, 1.0, 0.5, 0.3, 0.5, 0.8, 0.5, 0.2],
    # 14
    [0.0, 0.3, 0.8, 1.8, 0.5, 0.1, 1.0, 1.7, 0.3, 0.0, 0.3, 1.0, 0.3, 0.2,
     0.1, 0.0, 0.0, 0.0, 0.0, 0.0, 0.0, 0.0, 0.0, 0.0, 0.1, 0.3, 0.5, 0.8,
     1.0, 0.5, 0.8, 1.0, 1.5, 2.0, 1.5, 1.0, 2.0, 3.0, 2.5, 1.5, 1.0, 0.8, 1.0, 2.0, 4.0, 6.0,
     7.0, 8.8, 4.0, 1.5, 0.8, 0.5, 0.3, 0.5, 0.8, 0.5, 0.3, 0.5, 1.5, 3.0, 6.0, 8.3, 5.0, 1.0, 0.3],
    # 15
    [0.0, 0.3, 0.8, 1.8, 0.5, 0.1, 1.0, 1.6, 0.3, 0.0, 0.3, 1.0, 0.3, 0.2,
     0.1, 0.0, 0.0, 0.0, 0.0, 0.0, 0.0, 0.0, 0.0, 0.0, 0.1, 0.3, 0.5, 1.0,
     1.5, 1.0, 0.5, 1.0, 2.0, 1.5, 1.0, 0.8, 0.5, 0.3, 0.5, 1.0, 2.0, 4.0, 6.0, 9.9, 3.0, 1.0,
     0.5, 0.3, 0.5, 0.8, 0.5, 0.3, 0.5, 0.8, 1.0, 0.5, 0.3, 0.5, 0.8, 1.0, 0.5, 0.3, 0.5, 0.8, 0.3],
    # 16
    [0.0, 0.3, 0.9, 2.0, 0.6, 0.2, 1.1, 1.8, 0.4, 0.0, 0.5, 2.1, 0.5, 0.2,
     0.1, 0.0, 0.0, 0.0, 0.0, 0.0, 0.0, 0.0, 0.0, 0.0, 0.2, 0.3, 0.5, 1.0,
     1.5, 1.0, 0.8, 0.5, 1.0, 1.5, 2.0, 1.5, 1.0, 0.5, 0.3, 0.5, 1.0, 1.5, 1.0, 0.5, 0.3, 0.5,
     0.8, 0.5, 0.3, 0.5, 1.0, 1.5, 2.0, 1.5, 1.0, 2.0, 4.3, 2.0, 1.0, 0.5, 0.8, 1.5, 2.0, 1.5, 0.3],
    # 17
    [0.0, 0.3, 0.8, 2.0, 0.5, 0.1, 1.0, 1.7, 0.3, 0.0, 0.3, 1.2, 0.3, 0.2,
     0.1, 0.0, 0.0, 0.0, 0.0, 0.0, 0.0, 0.0, 0.0, 0.0, 0.1, 0.2, 0.3, 0.5,
     0.8, 1.0, 0.8, 0.5, 1.0, 1.5, 1.0, 0.5, 0.8, 1.0, 1.5, 2.0, 1.5, 1.0, 0.5, 0.8, 1.0, 0.5,
     0.3, 0.5, 0.8, 1.0, 0.5, 0.3, 0.5, 1.0, 1.5, 1.0, 0.5, 0.8, 1.0, 1.5, 1.0, 0.5, 0.8, 1.0, 0.3],
    # 18
    [0.0, 0.3, 0.8, 1.8, 0.5, 0.1, 1.0, 1.7, 0.3, 0.0, 0.3, 1.0, 0.3, 0.2,
     0.1, 0.0, 0.0, 0.0, 0.0, 0.0, 0.0, 0.0, 0.0, 0.0, 0.1, 0.2, 0.5, 0.8,
     1.0, 0.8, 0.5, 0.8, 1.0, 0.5, 0.3, 0.5, 0.8, 1.0, 1.5, 1.0, 0.5, 0.8, 1.0, 1.5, 1.0, 0.5,
     0.3, 0.5, 0.8, 0.5, 0.3, 0.5, 0.8, 1.0, 0.5, 0.3, 0.5, 0.8, 1.0, 0.5, 0.3, 0.5, 0.8, 0.5, 0.2],
    # 19
    [0.0, 0.3, 0.8, 1.8, 0.5, 0.1, 1.0, 1.7, 0.3, 0.0, 0.3, 1.0, 0.3, 0.2,
     0.1, 0.0, 0.0, 0.0, 0.0, 0.0, 0.0, 0.0, 0.0, 0.0, 0.3, 1.0, 2.5, 3.3,
     3.3, 3.3, 3.3, 3.3, 2.0, 1.0, 0.5, 0.3, 0.5, 0.8, 1.0, 0.5, 0.3, 0.5, 0.8, 1.0, 0.5, 0.3,
     0.5, 0.8, 0.5, 0.3, 0.5, 0.8, 0.5, 0.3, 0.5, 0.8, 1.0, 0.5, 0.3, 0.5, 0.8, 1.0, 0.5, 0.3, 0.1],
    # 20
    [0.0, 0.4, 1.2, 3.3, 0.8, 0.2, 1.3, 3.0, 0.5, 0.0, 0.4, 1.5, 0.4, 0.2,
     0.1, 0.0, 0.0, 0.0, 0.0, 0.0, 0.0, 0.0, 0.0, 0.0, 0.1, 0.2, 0.3, 0.5,
     0.8, 0.5, 0.3, 0.5, 0.8, 1.0, 1.5, 1.0, 0.5, 0.3, 0.5, 1.0, 1.5, 2.0, 1.5, 1.0, 0.5, 0.3,
     0.5, 0.8, 1.0, 0.5, 0.3, 0.5, 0.8, 1.0, 1.5, 2.0, 2.5, 3.0, 3.5, 4.5, 5.0, 5.7, 5.5, 3.0, 0.5],
]


def long_table(series_by_level):
    rows = []
    for level, members in series_by_level.items():
        for name, vals in zip(PERT_NAMES, members):
            assert len(vals) == len(STEPS), (level, name, len(vals))
            rows += [(level, name, d, v) for d, v in zip(STEPS, vals)]
    return pd.DataFrame(rows, columns=["level", "member", "day", "value"])


temp_df = long_table({"850": T850_PERT, "500": T500_PERT})
prec_df = long_table({"rr": PR_PERT})
palette = dict(zip(PERT_NAMES, PERT_COLORS))

sns.set_theme(style="white")
plt.rcParams["font.family"] = ["DejaVu Sans Mono", "DejaVu Sans"]
FS = 7.2
SNOW_DISC = "#b4e2fa"
SNOW_STAR = "#3a94dc"

fig = plt.figure(figsize=(7.4, 7.0), dpi=100)
# plot frame: 11/04 at x=50.7px, 27/04 at x=690.7px, 0 degC at y=230px, 7 px per degree
AX_L, AX_R, AX_BOT = 50.7, 690.7, 600
ax = fig.add_axes([AX_L / W_PX, 1 - AX_BOT / H_PX, (AX_R - AX_L) / W_PX, AX_BOT / H_PX])
Y_LO, Y_HI = (230 - 600) / 7, 230 / 7
ax.set_xlim(0, 16)
ax.set_ylim(Y_LO, Y_HI)

# grid
for v in range(-45, 31, 5):
    if v == 0:
        ax.axhline(v, color="#8c8c8c", lw=2.0, zorder=1)
    else:
        ax.axhline(v, color="#c0c0c0", lw=1.5 if v % 10 == 0 else 1.0, zorder=1)
for d in range(17):
    ax.axvline(d, color="#c0c0c0", lw=1.0, zorder=1, clip_on=False)
ax.axhline(Y_LO, color="black", lw=1.0, zorder=1, clip_on=False)

line_kw = dict(estimator=None, sort=False, legend=False)
# perturbations (850 + 500 hPa)
sns.lineplot(data=temp_df, x="day", y="value", hue="member", units="level", palette=palette,
             lw=0.75, marker="+", ms=3, mew=0.7, mec="auto", zorder=2, ax=ax, **line_kw)
for vals, col, lw in ((T850_GFS, "black", 2.6), (T500_GFS, "black", 2.6),
                      (T850_CTRL, "#0000ff", 2.6), (T500_CTRL, "#0000ff", 2.6),
                      (T850_MEAN, "#ff0000", 3.5), (T500_MEAN, "#ff0000", 3.5)):
    sns.lineplot(x=STEPS, y=vals, color=col, lw=lw, zorder=3, ax=ax, **line_kw)

# precipitation on its own (mm) scale, 0 mm level with -45 degC
ax2 = ax.twinx()
ax2.set_ylim(Y_LO + 45, Y_HI + 45)
sns.lineplot(data=prec_df, x="day", y="value", hue="member", units="level", palette=palette,
             lw=0.75, marker="+", ms=3, mew=0.7, mec="auto", zorder=2, ax=ax2, **line_kw)
for vals, col, lw in ((PR_GFS, "black", 2.6), (PR_CTRL, "#0000ff", 2.6), (PR_MEAN, "#ff0000", 3.5)):
    sns.lineplot(x=STEPS, y=vals, color=col, lw=lw, zorder=3, ax=ax2, **line_kw)
ax2.set_axis_off()

ax.set_xticks([])
ax.set_yticks([])
ax.set_xlabel("")
ax.set_ylabel("")
for s in ax.spines.values():
    s.set_visible(False)

# axis labels
tr = mtransforms.blended_transform_factory(ax.transAxes, ax.transData)
for v in range(-45, 31, 5):
    ax.text((19.5 - AX_L) / 640, v - 0.36, str(v), transform=tr, ha="left", va="center", fontsize=FS)
    ax.text((710.5 - AX_L) / 640, v - 0.36, str(v + 45), transform=tr, ha="left", va="center", fontsize=FS)
for d, lab in enumerate(DATES):
    ax.text(d + 0.21, (230 - 602) / 7, lab, rotation=90, ha="center", va="top", fontsize=FS, clip_on=False)

ax.text(0.23, 1.35, "Temp. 850hPa", fontsize=FS, va="baseline")
ax.text(0.23, -26.4, "Temp. 500hPa", fontsize=FS, va="baseline")
ax.text(0.23, -41.4, "Précipitations", fontsize=FS, va="baseline")

# snow risk: light disc with a snowflake, percentage written above
ICON_Y = (230 - 588) / 7
PCT_Y = (230 - 581.5) / 7
ax.scatter(SNOW_DAYS, [ICON_Y] * len(SNOW_DAYS), s=70, color=SNOW_DISC, lw=0, zorder=4)
for d, pct in zip(SNOW_DAYS, SNOW_PCT):
    ax.text(d, ICON_Y, "❄", color=SNOW_STAR, fontsize=7, ha="center", va="center",
            family="DejaVu Sans", zorder=5)
    ax.text(d, PCT_Y, "%d%%" % pct, rotation=90, color="#0000ff", fontsize=6, ha="center", va="bottom")


def ftext(x, y, s, **kw):
    kw.setdefault("fontsize", FS)
    kw.setdefault("va", "center")
    fig.text(x / W_PX, 1 - y / H_PX, s, **kw)


def fline(x0, x1, y, color):
    fig.add_artist(Line2D([x0 / W_PX, x1 / W_PX], [1 - y / H_PX] * 2, color=color, lw=3.6,
                          solid_capstyle="butt", transform=fig.transFigure))


ftext(20, 606.5, "(°c)")
ftext(712, 606.5, "(mm)")

# legend
fline(35, 66, 631, "#ff0000")
ftext(75, 637, "Moyenne des scénarios")
fline(226, 257, 637, "#0000ff")
ftext(266, 637, "Run de contrôle")
fline(226, 257, 646.5, "black")
ftext(266, 647, "Run GFS")
fig.add_artist(Line2D([60 / W_PX], [1 - 657 / H_PX], marker="o", ms=8.5, color=SNOW_DISC, lw=0,
                      transform=fig.transFigure))
ftext(60, 657, "❄", color=SNOW_STAR, fontsize=7, ha="center", family="DejaVu Sans")
ftext(75, 658, "Risque neige (par rapport a tous les scénarios)")
ftext(372, 653, "20 Perturbations")
for k, (name, col) in enumerate(zip(PERT_NAMES, PERT_COLORS)):
    x0 = 470 + 11 * k
    fig.add_artist(Rectangle((x0 / W_PX, 1 - 657 / H_PX), 10 / W_PX, 8 / H_PX, color=col,
                             transform=fig.transFigure, lw=0))
    ftext(x0 + 5, 643.5, name, fontsize=5.2, ha="center")

# title box
fig.add_artist(Rectangle((21 / W_PX, 1 - 699 / H_PX), (438 - 21) / W_PX, (699 - 667) / H_PX,
                         fill=False, ec="black", lw=1.0, transform=fig.transFigure))
ftext(30, 677, "Diagramme des ensembles GEFS sur 384h : 50.8N 4.4E", fontsize=8.3, weight="bold")
ftext(30, 692, "Températures 850hPa et 500hPa (°C) , précipitations (mm)")
ftext(452, 672, "Ensemble GEFS du 11/04/2012 - 00h")
ftext(452, 692, "Copyright 2012 Meteociel.fr", fontsize=8.3, weight="bold")

fig.savefig("out.png", dpi=100)
